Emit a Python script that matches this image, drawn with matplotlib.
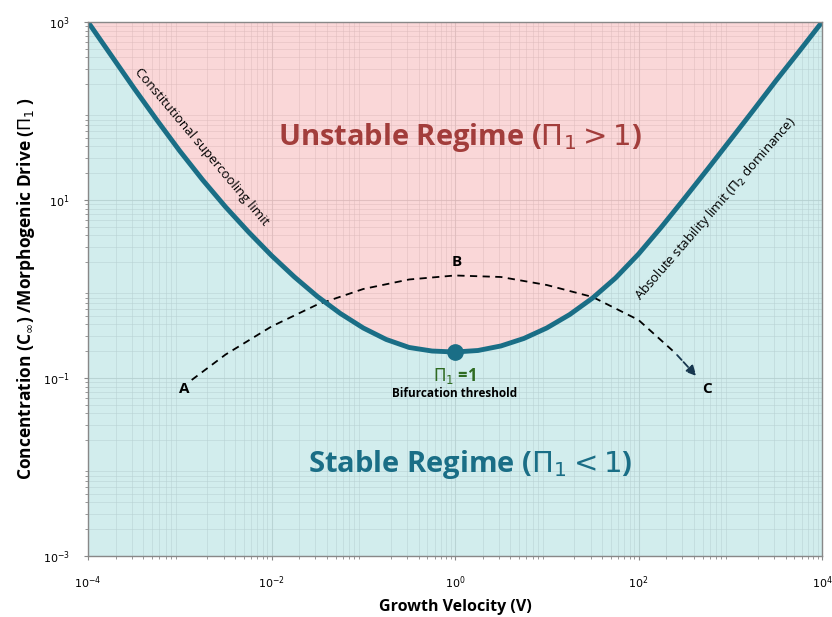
import matplotlib.pyplot as plt
import numpy as np
from matplotlib.ticker import LogLocator, NullFormatter

# stability boundary as log10 values (quarter-decade steps in V)
boundary_logv = [-4.00, -3.75, -3.50, -3.25, -3.00, -2.75, -2.50, -2.25, -2.00, -1.75, -1.50,
                 -1.25, -1.00, -0.75, -0.50, -0.25, 0.00, 0.25, 0.50, 0.75, 1.00, 1.25, 1.50,
                 1.75, 2.00, 2.25, 2.50, 2.75, 3.00, 3.25, 3.50, 3.75, 4.00]
boundary_logpi = [3.000, 2.629, 2.258, 1.899, 1.551, 1.225, 0.921, 0.640, 0.376, 0.135, -0.084,
                  -0.275, -0.438, -0.567, -0.657, -0.697, -0.708, -0.691, -0.640, -0.556, -0.438,
                  -0.287, -0.101, 0.124, 0.393, 0.697, 1.017, 1.343, 1.674, 2.006, 2.343, 2.669,
                  3.000]

# path A -> B -> C
path_logv = [-2.87, -2.50, -2.00, -1.50, -1.00, -0.50, 0.00, 0.50, 1.00, 1.50, 2.00, 2.40, 2.65]
path_logpi = [-1.022, -0.736, -0.421, -0.174, 0.000, 0.107, 0.152, 0.135, 0.045, -0.090, -0.348,
              -0.719, -1.000]

bif_v, bif_pi = 1.0, 10 ** -0.708

v = 10 ** np.array(boundary_logv)
pi1 = 10 ** np.array(boundary_logpi)
pv = 10 ** np.array(path_logv)
ppi = 10 ** np.array(path_logpi)

teal = '#1a6e86'
font = 'Open Sans'

fig = plt.figure(figsize=(8.32, 6.17), dpi=100)
ax = fig.add_axes([0.1058, 0.0989, 0.8822, 0.8654])
ax.set_xscale('log')
ax.set_yscale('log')
ax.set_xlim(1e-4, 1e4)
ax.set_ylim(1e-3, 1e3)
ax.set_axisbelow(True)

# semi-transparent fills over the grid tint the grid lines per region
ax.fill_between(v, pi1, 1e3, color='#f9cfd0', alpha=0.82, lw=0, zorder=1)
ax.fill_between(v, 1e-3, pi1, color='#c9e9ea', alpha=0.82, lw=0, zorder=1)

ax.xaxis.set_major_locator(LogLocator(base=10, numticks=20))
ax.xaxis.set_minor_locator(LogLocator(base=10, subs=np.arange(2, 10), numticks=100))
ax.yaxis.set_major_locator(LogLocator(base=10, numticks=20))
ax.yaxis.set_minor_locator(LogLocator(base=10, subs=np.arange(2, 10), numticks=100))
ax.xaxis.set_minor_formatter(NullFormatter())
ax.yaxis.set_minor_formatter(NullFormatter())
ax.set_xticks([1e-4, 1e-2, 1e0, 1e2, 1e4])
ax.set_xticklabels([r'$10^{-4}$', r'$10^{-2}$', r'$10^{0}$', r'$10^{2}$', r'$10^{4}$'])
ax.set_yticks([1e-3, 1e-1, 1e1, 1e3])
ax.set_yticklabels([r'$10^{-3}$', r'$10^{-1}$', r'$10^{1}$', r'$10^{3}$'])
ax.grid(which='major', color='#555555', lw=0.8, alpha=0.8)
ax.grid(which='minor', color='#666666', lw=0.6, alpha=0.6)
ax.tick_params(axis='both', which='major', labelsize=8, length=3, color='#888888', pad=10)
ax.tick_params(axis='both', which='minor', length=2, color='#888888')
for s in ax.spines.values():
    s.set_color('#888888')
    s.set_linewidth(1)
    s.set_zorder(5)

# boundary + bifurcation point
ax.plot(v, pi1, color=teal, lw=3.5, solid_capstyle='round', solid_joinstyle='round', zorder=3)
ax.plot([bif_v], [bif_pi], 'o', color=teal, ms=11, zorder=4)

# dashed path with arrow
ax.plot(pv[:-1], ppi[:-1], ls=(0, (4, 3)), color='black', lw=1.3, zorder=2)
ax.annotate('', xy=(pv[-1], ppi[-1]), xytext=(pv[-2], ppi[-2]),
            arrowprops=dict(arrowstyle='-|>', color='#17374f', lw=1.3, ls='--',
                            mutation_scale=15), zorder=2)

lbl = dict(fontsize=11, fontweight='bold', family=font, color='black')
ax.text(10 ** -2.95, 10 ** -1.04, 'A', ha='center', va='top', **lbl)
ax.text(10 ** 0.02, 10 ** 0.23, 'B', ha='center', va='bottom', **lbl)
ax.text(10 ** 2.75, 10 ** -1.04, 'C', ha='center', va='top', **lbl)

ax.text(bif_v, 10 ** -0.98, r'$\Pi_1$ =1', ha='center', va='center', fontsize=12,
        fontweight='bold', color='#2f6b22', family=font)
ax.text(bif_v, 10 ** -1.17, 'Bifurcation threshold', ha='center', va='center', fontsize=8.5,
        fontweight='bold', color='black', family=font)

ax.text(10 ** 0.05, 10 ** 1.7, r'Unstable Regime ($\Pi_1 > 1$)', ha='center', va='center',
        fontsize=21, fontweight='bold', color='#a23d3b', family=font)
ax.text(10 ** 0.16, 10 ** -1.97, r'Stable Regime ($\Pi_1 < 1$)', ha='center', va='center',
        fontsize=21, fontweight='bold', color=teal, family=font)

ax.text(10 ** -2.76, 10 ** 1.6, 'Constitutional supercooling limit', rotation=-50,
        ha='center', va='center', fontsize=9.5, family=font, rotation_mode='anchor', zorder=4)
ax.text(10 ** 2.84, 10 ** 0.9, r'Absolute stability limit ($\Pi_2$ dominance)', rotation=49,
        ha='center', va='center', fontsize=9.5, family=font, rotation_mode='anchor', zorder=4)

ax.set_xlabel('Growth Velocity (V)', fontsize=11.5, fontweight='bold', family=font, labelpad=6)
ax.set_ylabel(r'Concentration (C$_\infty$) /Morphogenic Drive ($\Pi_1$ )', fontsize=12.5,
              fontweight='bold', family=font, labelpad=4)

fig.savefig('out.png', dpi=100)
